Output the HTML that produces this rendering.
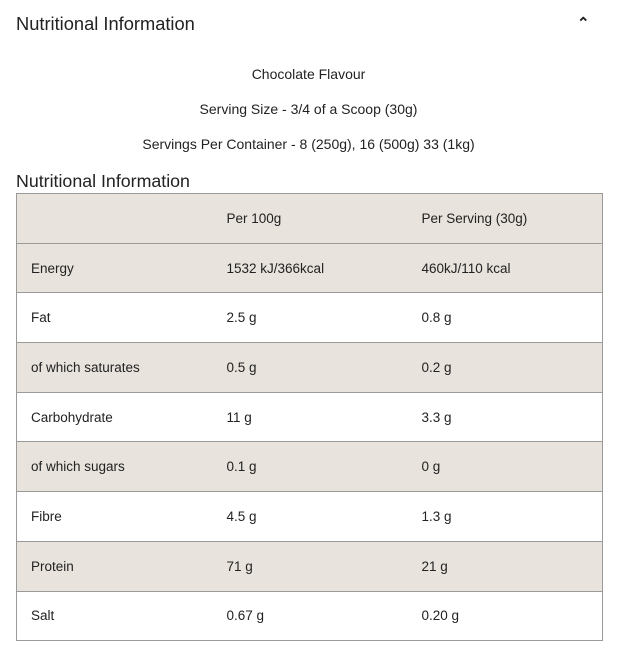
<!DOCTYPE html>
<html><head><style>
body{margin:0;width:617px;height:654px;background:#fff;font-family:"Liberation Sans",sans-serif;color:#222;position:relative;overflow:hidden}
.t{position:absolute;white-space:nowrap}
table{position:absolute;left:16px;top:193px;width:587px;border-collapse:collapse;font-size:13.5px;table-layout:fixed}
td{border-top:1px solid #9a9a9a;height:49.7px;padding:0;vertical-align:middle;box-sizing:border-box}
td:nth-child(1){padding-left:14px}
tr.b td{background:#e8e3dc}
</style></head><body>
<div class="t" style="left:16px;top:13px;font-size:18.3px">Nutritional Information</div>
<div class="t" style="left:577px;top:14px;font-size:15px;font-weight:bold">&#8963;</div>
<div class="t" style="left:0;width:617px;text-align:center;top:66px;font-size:14px">Chocolate Flavour</div>
<div class="t" style="left:0;width:617px;text-align:center;top:101px;font-size:14px">Serving Size - 3/4 of a Scoop (30g)</div>
<div class="t" style="left:0;width:617px;text-align:center;top:136px;font-size:14px">Servings Per Container - 8 (250g), 16 (500g) 33 (1kg)</div>
<div class="t" style="left:16px;top:171px;font-size:17.8px">Nutritional Information</div>
<table style="border:1px solid #9a9a9a">
<colgroup><col style="width:210px"><col style="width:195px"><col></colgroup>
<tr class="b"><td></td><td>Per 100g</td><td>Per Serving (30g)</td></tr>
<tr class="b"><td>Energy</td><td>1532 kJ/366kcal</td><td>460kJ/110 kcal</td></tr>
<tr><td>Fat</td><td>2.5 g</td><td>0.8 g</td></tr>
<tr class="b"><td>of which saturates</td><td>0.5 g</td><td>0.2 g</td></tr>
<tr><td>Carbohydrate</td><td>11 g</td><td>3.3 g</td></tr>
<tr class="b"><td>of which sugars</td><td>0.1 g</td><td>0 g</td></tr>
<tr><td>Fibre</td><td>4.5 g</td><td>1.3 g</td></tr>
<tr class="b"><td>Protein</td><td>71 g</td><td>21 g</td></tr>
<tr><td>Salt</td><td>0.67 g</td><td>0.20 g</td></tr>
</table>
</body></html>
